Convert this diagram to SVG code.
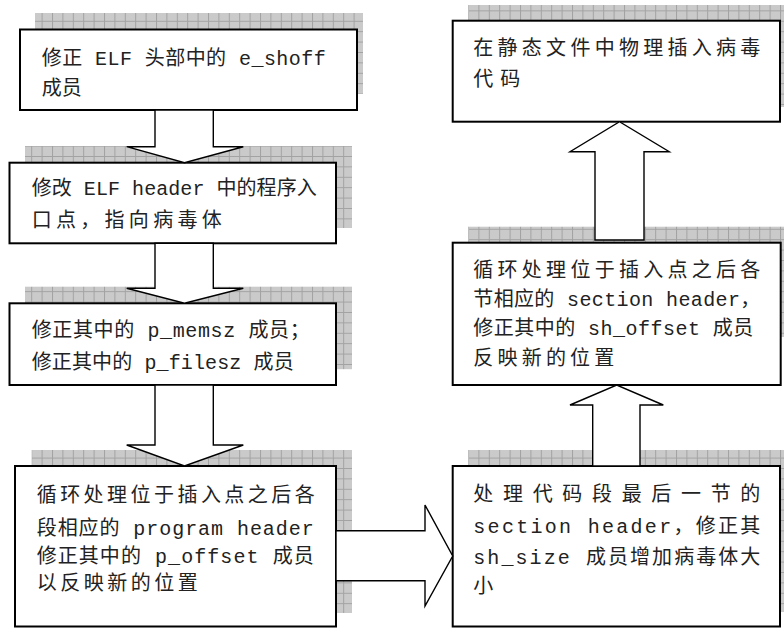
<svg xmlns="http://www.w3.org/2000/svg" width="784" height="628" viewBox="0 0 784 628">
  <defs>
    <pattern id="grid" patternUnits="userSpaceOnUse" width="10.4" height="10.4">
      <rect width="10.4" height="10.4" fill="#cacaca"/>
      <path d="M0 0.5H10.4M0.5 0V10.4" stroke="#a2a2a2" stroke-width="1" fill="none"/>
    </pattern>
  </defs>
  <style>
    .shadow { fill: url(#grid); }
    .box { fill: #ffffff; stroke: #000000; stroke-width: 2; }
    .arrow { fill: #ffffff; stroke: #000000; stroke-width: 1.4; stroke-linejoin: miter; }
    .t { font-family: "Liberation Mono", "Noto Sans CJK SC", monospace; font-size: 20px; fill: #222222; }
  </style>
  <rect width="784" height="628" fill="#ffffff"/>

  <g id="node1">
    <rect class="shadow" x="35" y="13" width="328" height="81"/>
    <rect class="box" x="20" y="29.5" width="337" height="80.5"/>
    <text class="t" x="41.7" y="65" textLength="284" lengthAdjust="spacing">修正 ELF 头部中的 e_shoff</text>
    <text class="t" x="41.7" y="94.5">成员</text>
  </g>

  <g id="node2">
    <rect class="shadow" x="25" y="146" width="327" height="82"/>
    <rect class="box" x="9.5" y="162.7" width="326.5" height="80.6"/>
    <text class="t" x="31.7" y="194.5" textLength="285" lengthAdjust="spacing">修改 ELF header 中的程序入</text>
    <text class="t" x="31.7" y="227" textLength="190" lengthAdjust="spacing">口点，指向病毒体</text>
  </g>

  <g id="node3">
    <rect class="shadow" x="25" y="286.7" width="327" height="82.5"/>
    <rect class="box" x="9.5" y="303.3" width="326.5" height="81.7"/>
    <text class="t" x="31.7" y="337" textLength="278" lengthAdjust="spacing">修正其中的 p_memsz 成员；</text>
    <text class="t" x="31.7" y="369" textLength="262" lengthAdjust="spacing">修正其中的 p_filesz 成员</text>
  </g>

  <g id="node4">
    <rect class="shadow" x="31.7" y="450" width="320.3" height="163"/>
    <rect class="box" x="15" y="466" width="321" height="160.5"/>
    <text class="t" x="36.7" y="502" textLength="278" lengthAdjust="spacing">循环处理位于插入点之后各</text>
    <text class="t" x="36.7" y="535" textLength="277" lengthAdjust="spacing">段相应的 program header</text>
    <text class="t" x="36.7" y="562.5" textLength="277" lengthAdjust="spacing">修正其中的 p_offset 成员</text>
    <text class="t" x="36.7" y="590" textLength="161" lengthAdjust="spacing">以反映新的位置</text>
  </g>

  <g id="node5">
    <rect class="shadow" x="468.3" y="450" width="315.7" height="162"/>
    <rect class="box" x="452.7" y="466" width="327.3" height="160.5"/>
    <text class="t" x="473.3" y="501" textLength="287" lengthAdjust="spacing">处理代码段最后一节的</text>
    <text class="t" x="473.3" y="533" textLength="287" lengthAdjust="spacing">section header，修正其</text>
    <text class="t" x="473.3" y="564" textLength="287" lengthAdjust="spacing">sh_size 成员增加病毒体大</text>
    <text class="t" x="473.3" y="593">小</text>
  </g>

  <g id="node6">
    <rect class="shadow" x="468.3" y="226.7" width="315.7" height="110.3"/>
    <rect class="box" x="452.7" y="242.7" width="328" height="142.3"/>
    <text class="t" x="473.3" y="277" textLength="287" lengthAdjust="spacing">循环处理位于插入点之后各</text>
    <text class="t" x="473.3" y="306" textLength="287" lengthAdjust="spacing">节相应的 section header，</text>
    <text class="t" x="473.3" y="335" textLength="280" lengthAdjust="spacing">修正其中的 sh_offset 成员</text>
    <text class="t" x="473.3" y="365" textLength="141" lengthAdjust="spacing">反映新的位置</text>
  </g>

  <g id="node7">
    <rect class="shadow" x="468.3" y="5" width="315.7" height="102"/>
    <rect class="box" x="452.7" y="20.7" width="327.3" height="101"/>
    <text class="t" x="473.3" y="54.5" textLength="287" lengthAdjust="spacing">在静态文件中物理插入病毒</text>
    <text class="t" x="473.3" y="86" textLength="47" lengthAdjust="spacing">代码</text>
  </g>

  <g id="connectors">
    <polygon class="arrow" points="155,110 213.3,110 213.3,146.7 243.3,146.7 184.5,162.7 126.7,146.7 155,146.7"/>
    <polygon class="arrow" points="155,243.3 213.3,243.3 213.3,288.3 243.3,288.3 184.5,303.3 126.7,288.3 155,288.3"/>
    <polygon class="arrow" points="155,385 213.3,385 213.3,445 243.3,445 184.5,466 126.7,445 155,445"/>
    <polygon class="arrow" points="336,530.7 425,530.7 425,505 452.7,556 425,606 425,580.7 336,580.7"/>
    <polygon class="arrow" points="592.7,466 592.7,405 570,405 616.7,385 663.3,405 640,405 640,466"/>
    <polygon class="arrow" points="595,240 595,151.7 570,151.7 619.5,121.7 669.3,151.7 644,151.7 644,240"/>
  </g>
</svg>
